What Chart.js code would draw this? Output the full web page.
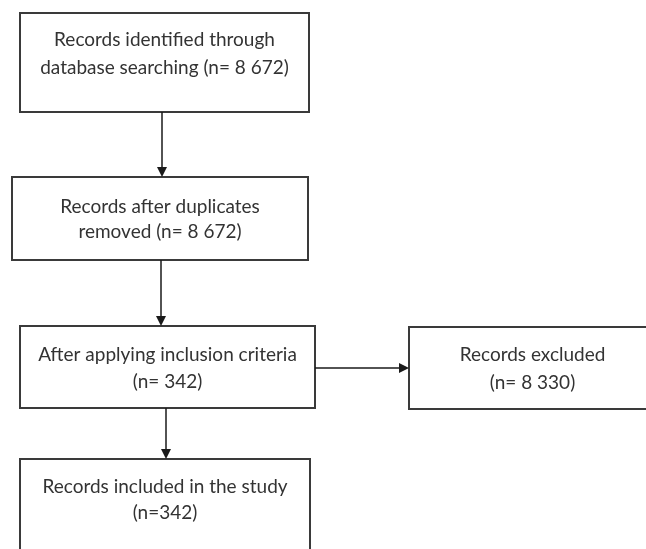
<!DOCTYPE html>
<html>
<head>
<meta charset="utf-8">
<script src="https://cdn.jsdelivr.net/npm/chart.js@4"></script>
<style>
  html, body { margin: 0; padding: 0; background: #ffffff; }
  #wrap { width: 646px; height: 549px; position: relative; }
</style>
</head>
<body>
<div id="wrap"><canvas id="c"></canvas></div>
<script>
// ---- data ----
const stageLabels = [
  "Records identified through",
  "Records after duplicates",
  "After applying inclusion criteria",
  "Records excluded",
  "Records included in the study"
];
const stageSecondLine = [
  "database searching (n= {n})",
  "removed (n= {n})",
  "(n= {n})",
  "(n= {n})",
  "(n={n})"
];
const stageCounts = [8672, 8672, 342, 8330, 342];
// flow connections: [from, to]
const flowLinks = [[0, 1], [1, 2], [2, 4], [2, 3]];

// ---- layout (in scale units, 0..646 x, 0..549 y) ----
const boxLeft   = [20, 12, 20, 409, 20];
const boxRight  = [309, 308, 315, 656, 310];
const boxTop    = [13, 177, 326, 327, 459];
const boxBottom = [112, 260, 408, 409, 570];
const textLine1 = [40, 207, 355, 355, 487];
const textLine2 = [68, 232, 382, 383, 513];
// arrow geometry: [x1, y1, x2, y2]
const arrowX1 = [162, 161, 166, 315];
const arrowY1 = [112, 260, 408, 368];
const arrowX2 = [162, 161, 166, 409];
const arrowY2 = [177, 326, 459, 368];

function fmt(n) {
  return String(n).replace(/\B(?=(\d{3})+(?!\d))/g, " ");
}

const flowPlugin = {
  id: 'flow',
  afterDatasetsDraw(chart) {
    const ctx = chart.ctx;
    const xs = chart.scales.x, ys = chart.scales.y;
    ctx.save();
    // boxes
    ctx.strokeStyle = '#3a3a3a';
    ctx.lineWidth = 2;
    for (let i = 0; i < stageLabels.length; i++) {
      const l = xs.getPixelForValue(boxLeft[i]);
      const r = xs.getPixelForValue(boxRight[i]);
      const t = ys.getPixelForValue(boxTop[i]);
      const b = ys.getPixelForValue(boxBottom[i]);
      ctx.strokeRect(l, t, r - l, b - t);
      const cx = (l + r) / 2;
      ctx.fillStyle = '#333333';
      ctx.font = '19px Lato, "Open Sans", sans-serif';
      ctx.textAlign = 'center';
      ctx.textBaseline = 'middle';
      ctx.fillText(stageLabels[i], cx, ys.getPixelForValue(textLine1[i]));
      ctx.fillText(stageSecondLine[i].replace('{n}', fmt(stageCounts[i])), cx, ys.getPixelForValue(textLine2[i]));
    }
    // arrows
    ctx.strokeStyle = '#1a1a1a';
    ctx.fillStyle = '#1a1a1a';
    ctx.lineWidth = 1.5;
    for (let k = 0; k < flowLinks.length; k++) {
      const x1 = xs.getPixelForValue(arrowX1[k]);
      const y1 = ys.getPixelForValue(arrowY1[k]);
      const x2 = xs.getPixelForValue(arrowX2[k]);
      const y2 = ys.getPixelForValue(arrowY2[k]);
      const ang = Math.atan2(y2 - y1, x2 - x1);
      const head = 10, half = 5;
      const bx = x2 - head * Math.cos(ang), by = y2 - head * Math.sin(ang);
      ctx.beginPath();
      ctx.moveTo(x1, y1);
      ctx.lineTo(bx, by);
      ctx.stroke();
      ctx.beginPath();
      ctx.moveTo(x2, y2);
      ctx.lineTo(bx + half * Math.sin(ang), by - half * Math.cos(ang));
      ctx.lineTo(bx - half * Math.sin(ang), by + half * Math.cos(ang));
      ctx.closePath();
      ctx.fill();
    }
    ctx.restore();
  }
};

new Chart(document.getElementById('c'), {
  type: 'scatter',
  data: {
    datasets: [{
      label: 'stages',
      data: stageLabels.map((s, i) => ({ x: (boxLeft[i] + boxRight[i]) / 2, y: (boxTop[i] + boxBottom[i]) / 2 })),
      pointRadius: 0,
      pointHoverRadius: 0
    }]
  },
  options: {
    responsive: true,
    maintainAspectRatio: false,
    animation: false,
    layout: { padding: 0 },
    plugins: { legend: { display: false }, tooltip: { enabled: false } },
    scales: {
      x: { type: 'linear', min: 0, max: 646, display: false },
      y: { type: 'linear', min: 0, max: 549, reverse: true, display: false }
    }
  },
  plugins: [flowPlugin]
});
</script>
</body>
</html>
